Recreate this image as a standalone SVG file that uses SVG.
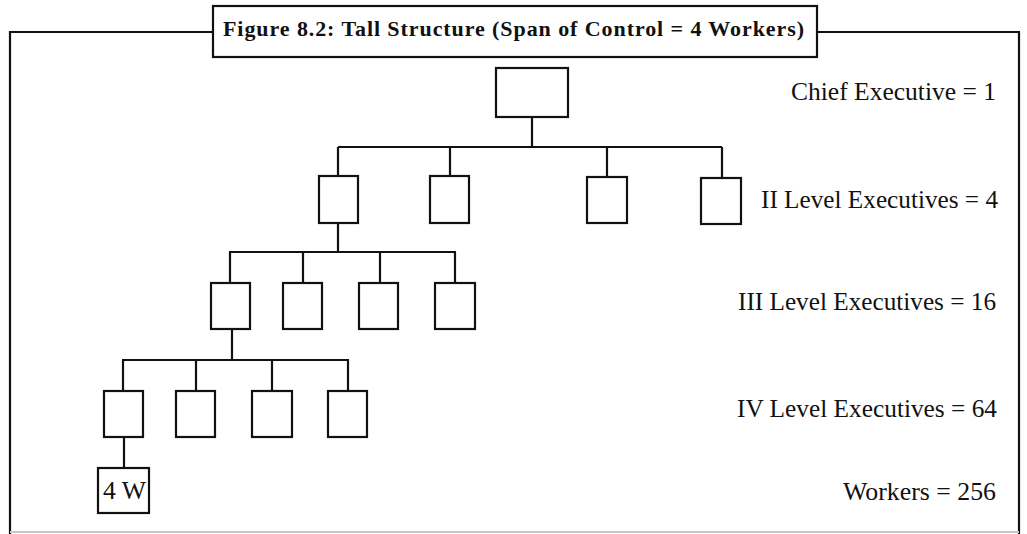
<svg xmlns="http://www.w3.org/2000/svg" width="1027" height="534" viewBox="0 0 1027 534">
<style>
.ln{stroke:#111;stroke-width:2.2;fill:none}
.bx{stroke:#111;stroke-width:2.2;fill:#fff}
.lbl{font-family:"Liberation Serif","DejaVu Serif",serif;font-size:25px;fill:#111}
.ttl{font-family:"Liberation Serif","DejaVu Serif",serif;font-size:22px;font-weight:bold;fill:#111}
</style>
<rect width="1027" height="534" fill="#fff"/>
<g id="frame">
<path class="ln" d="M212 32 H10 V534 M817 32 H1019 V534"/>
<line x1="10" y1="532" x2="1019" y2="532" stroke="#c8c8c8" stroke-width="2"/>
</g>
<g id="title">
<rect class="bx" x="213" y="6" width="604" height="51"/>
<text class="ttl" x="223" y="36" textLength="581" lengthAdjust="spacing">Figure 8.2: Tall Structure (Span of Control = 4 Workers)</text>
</g>
<g id="connectors">
<path class="ln" d="M532 117 V147 M338 147 H722 M338 147 V177 M450 147 V177 M607 147 V177 M722 147 V177"/>
<path class="ln" d="M338 223 V252 M229 252 H456 M230 252 V283 M303 252 V283 M380 252 V283 M455 252 V283"/>
<path class="ln" d="M232 329 V360 M122 360 H349 M123 360 V391 M196 360 V391 M272 360 V391 M348 360 V391"/>
<path class="ln" d="M124 437 V468"/>
</g>
<g id="chief"><rect class="bx" x="496" y="68" width="72" height="49"/></g>
<g id="l2-1"><rect class="bx" x="319" y="176" width="39" height="47"/></g>
<g id="l2-2"><rect class="bx" x="430" y="176" width="39" height="47"/></g>
<g id="l2-3"><rect class="bx" x="587" y="177" width="40" height="46"/></g>
<g id="l2-4"><rect class="bx" x="701" y="178" width="40" height="46"/></g>
<g id="l3-1"><rect class="bx" x="211" y="283" width="39" height="46"/></g>
<g id="l3-2"><rect class="bx" x="283" y="283" width="39" height="46"/></g>
<g id="l3-3"><rect class="bx" x="359" y="283" width="39" height="46"/></g>
<g id="l3-4"><rect class="bx" x="435" y="283" width="40" height="46"/></g>
<g id="l4-1"><rect class="bx" x="104" y="391" width="39" height="46"/></g>
<g id="l4-2"><rect class="bx" x="176" y="391" width="39" height="46"/></g>
<g id="l4-3"><rect class="bx" x="252" y="391" width="40" height="46"/></g>
<g id="l4-4"><rect class="bx" x="328" y="391" width="39" height="46"/></g>
<g id="workers"><rect class="bx" x="98" y="468" width="51" height="45"/>
<text class="lbl" x="103" y="499" textLength="43" lengthAdjust="spacingAndGlyphs">4 W</text></g>
<g id="labels">
<text class="lbl" x="791" y="100" textLength="205" lengthAdjust="spacingAndGlyphs">Chief Executive = 1</text>
<text class="lbl" x="761" y="208" textLength="237" lengthAdjust="spacingAndGlyphs">II Level Executives = 4</text>
<text class="lbl" x="738" y="310" textLength="258" lengthAdjust="spacingAndGlyphs">III Level Executives = 16</text>
<text class="lbl" x="737" y="417" textLength="260" lengthAdjust="spacingAndGlyphs">IV Level Executives = 64</text>
<text class="lbl" x="843" y="500" textLength="153" lengthAdjust="spacingAndGlyphs">Workers = 256</text>
</g>
</svg>
